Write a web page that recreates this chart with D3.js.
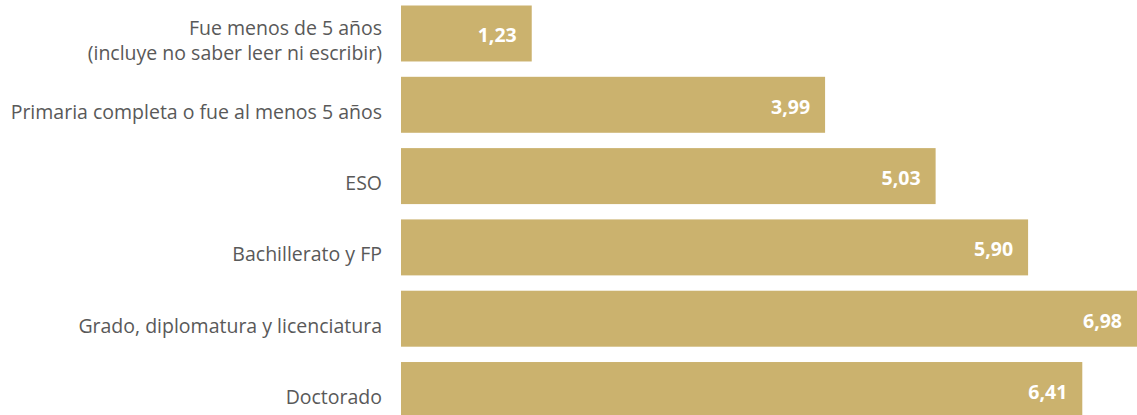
<!DOCTYPE html>
<meta charset="utf-8" />
<style>
    body {
        margin: 0;
        background: #fff;
    }

    text {
        font-family: 'Open Sans', sans-serif;
    }

    .bar {
        fill: #cbb26e;
    }

    .cat {
        fill: #595959;
        font-size: 19.5px;
    }

    .val {
        fill: #fff;
        font-size: 19.5px;
        font-weight: bold;
    }
</style>

<svg width="1137" height="415"></svg>

<script src="https://d3js.org/d3.v7.min.js"></script>
<script>
    const categories = [
        ['Fue menos de 5 años', '(incluye no saber leer ni escribir)'],
        ['Primaria completa o fue al menos 5 años'],
        ['ESO'],
        ['Bachillerato y FP'],
        ['Grado, diplomatura y licenciatura'],
        ['Doctorado'],
    ];
    const values = [1.23, 3.99, 5.03, 5.9, 6.98, 6.41];

    const chartData = categories.map((lines, i) => ({ key: i, lines, value: values[i] }));

    const svg = d3.select('svg');
    const fmt = v => d3.format('.2f')(v).replace('.', ',');

    const x = d3.scaleLinear().domain([0, 7]).range([401, 1145]);
    const y = d3
        .scaleBand()
        .domain(chartData.map(d => d.key))
        .range([5.5, 418])
        .paddingInner(0.215)
        .paddingOuter(0);

    svg.selectAll('.bar')
        .data(chartData)
        .enter()
        .append('rect')
        .attr('class', 'bar')
        .attr('x', x(0))
        .attr('y', d => y(d.key))
        .attr('width', d => x(d.value) - x(0))
        .attr('height', y.bandwidth());

    svg.selectAll('.val')
        .data(chartData)
        .enter()
        .append('text')
        .attr('class', 'val')
        .attr('x', d => Math.min(x(d.value), 1137) - 15)
        .attr('y', d => y(d.key) + y.bandwidth() / 2 + 2)
        .attr('dy', '0.35em')
        .attr('text-anchor', 'end')
        .text(d => fmt(d.value));

    const cat = svg.selectAll('.cat')
        .data(chartData)
        .enter()
        .append('text')
        .attr('class', 'cat')
        .attr('text-anchor', 'end')
        .attr('x', x(0) - 19)
        .attr('y', d => y(d.key) + y.bandwidth() / 2 + 7 - (d.lines.length - 1) * 12.5);

    cat.selectAll('tspan')
        .data(d => d.lines)
        .enter()
        .append('tspan')
        .attr('x', x(0) - 19)
        .attr('dy', (d, i) => (i === 0 ? '0.35em' : 25))
        .text(d => d);
</script>
